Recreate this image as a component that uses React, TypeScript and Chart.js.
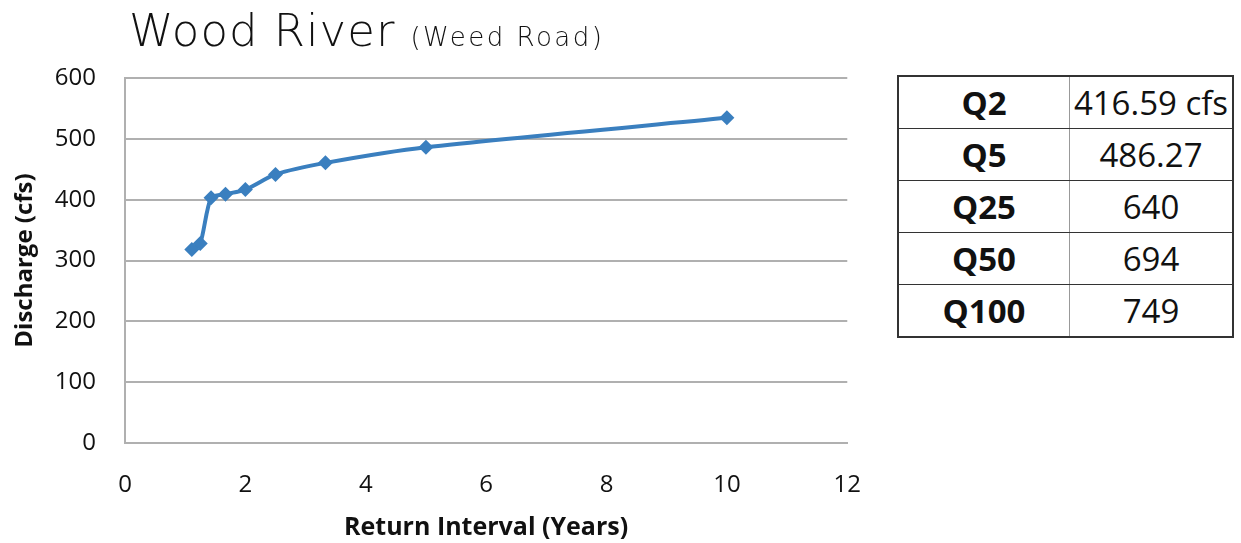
import React, { useEffect, useRef } from "react";
import { Chart, registerables } from "chart.js";

Chart.register(...registerables);

const returnIntervals = [1.11, 1.25, 1.43, 1.67, 2, 2.5, 3.33, 5, 10];
const discharge = [318, 328, 403, 409, 416.59, 441.5, 460.5, 486.27, 534.5];

const tableLabels = ["Q2", "Q5", "Q25", "Q50", "Q100"];
const tableValues = ["416.59 cfs", "486.27", "640", "694", "749"];

const titleMain = "Wood River";
const titleSub = "(Weed Road)";
const xTitle = "Return Interval (Years)";
const yTitle = "Discharge (cfs)";

const LINE = "#3a7fbf";
const GRID = "#b0b0b0";

export default function App() {
  const ref = useRef<HTMLCanvasElement | null>(null);

  useEffect(() => {
    if (!ref.current) return;
    const chart = new Chart(ref.current, {
      type: "line",
      data: {
        datasets: [
          {
            data: returnIntervals.map((x, i) => ({ x, y: discharge[i] })),
            borderColor: LINE,
            backgroundColor: LINE,
            borderWidth: 4,
            pointStyle: "rectRot",
            pointRadius: 7.5,
            pointBackgroundColor: LINE,
            pointBorderColor: LINE,
            pointBorderWidth: 0,
            tension: 0.25,
            fill: false,
          },
        ],
      },
      options: {
        responsive: false,
        animation: false,
        layout: { padding: { left: 0, top: 78, right: 23, bottom: 0 } },
        plugins: {
          legend: { display: false },
          tooltip: { enabled: false },
          title: { display: false },
        },
        scales: {
          x: {
            type: "linear",
            min: 0,
            max: 12,
            afterFit: (s: any) => {
              s.height = 100;
            },
            ticks: {
              stepSize: 2,
              color: "#111",
              padding: 28,
              font: { family: "'Open Sans'", size: 24 },
            },
            grid: { display: false, drawTicks: false },
            border: { display: true, color: GRID, width: 2 },
            title: {
              display: true,
              text: xTitle,
              color: "#111",
              font: { family: "'Open Sans'", size: 25, weight: "bold" },
              padding: { top: 0, bottom: 0 },
            },
          },
          y: {
            min: 0,
            max: 600,
            afterFit: (s: any) => {
              s.width = 125;
            },
            ticks: {
              stepSize: 100,
              color: "#111",
              padding: 29,
              font: { family: "'Open Sans'", size: 24 },
            },
            grid: { color: GRID, lineWidth: 2, drawTicks: false },
            border: { display: true, color: GRID, width: 2 },
            title: {
              display: true,
              text: yTitle,
              color: "#111",
              font: { family: "'Open Sans'", size: 24, weight: "bold" },
              padding: { top: 11, bottom: 0 },
            },
          },
        },
      },
    });
    return () => chart.destroy();
  }, []);

  const cellBase: React.CSSProperties = {
    border: "1.5px solid #333",
    height: 51,
    padding: 0,
    textAlign: "center",
    verticalAlign: "middle",
    fontFamily: "'Open Sans'",
    fontSize: 33,
    color: "#111",
  };

  return (
    <div
      style={{
        position: "fixed",
        left: 0,
        top: 0,
        width: 1241,
        height: 543,
        background: "#fff",
        overflow: "hidden",
      }}
    >
      <canvas
        ref={ref}
        width={889}
        height={543}
        style={{ position: "absolute", left: 0, top: 0 }}
      />
      <div
        style={{
          position: "absolute",
          left: 129,
          top: 3,
          whiteSpace: "nowrap",
          fontFamily: "'DejaVu Sans'",
          fontWeight: 200,
          color: "#111",
          lineHeight: "56px",
        }}
      >
        <span style={{ fontSize: 45, letterSpacing: 1 }}>{titleMain}</span>
        <span style={{ fontSize: 26, marginLeft: 15, letterSpacing: 2.5 }}>
          {titleSub}
        </span>
      </div>
      <table
        style={{
          position: "absolute",
          left: 897,
          top: 75,
          width: 337,
          borderCollapse: "collapse",
          border: "2px solid #333",
        }}
      >
        <tbody>
          {tableLabels.map((l, i) => (
            <tr key={l}>
              <td
                style={{
                  ...cellBase,
                  width: 170,
                  fontWeight: "bold",
                  borderRight: "1.5px solid #999",
                }}
              >
                {l}
              </td>
              <td style={{ ...cellBase, borderLeft: "1.5px solid #999" }}>
                {tableValues[i]}
              </td>
            </tr>
          ))}
        </tbody>
      </table>
    </div>
  );
}
